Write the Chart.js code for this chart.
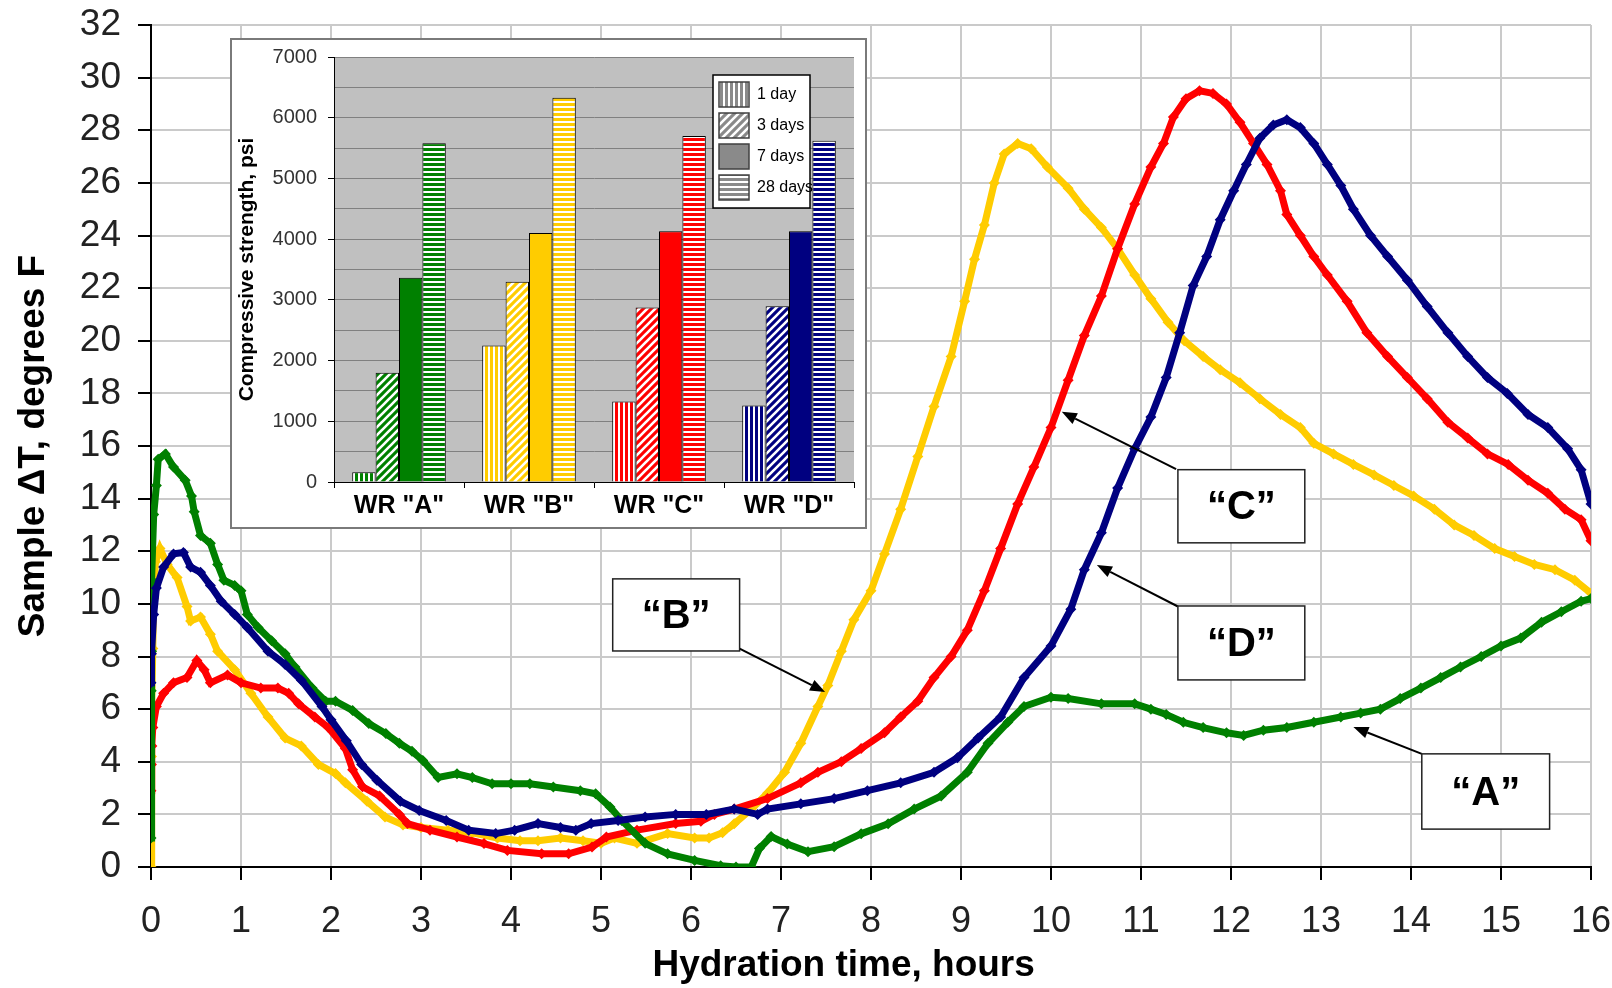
<!DOCTYPE html>
<html><head><meta charset="utf-8">
<script src="https://cdn.jsdelivr.net/npm/chart.js@4.4.0/dist/chart.umd.min.js"></script>
<style>
html,body{margin:0;padding:0;background:#fff;overflow:hidden}
#wrap{position:relative;width:1612px;height:988px}
#main{position:absolute;left:0;top:0}
#inset{position:absolute;left:230px;top:38px}
</style></head><body>
<div id="wrap"><canvas id="main" width="1612" height="988"></canvas><canvas id="inset" width="637" height="491"></canvas></div>
<script>
// ---------- Main chart data (hours, degrees F) ----------
const hoursA = [0,0.003,0.006,0.01,0.03,0.06,0.08,0.16,0.25,0.38,0.45,0.48,0.55,0.66,0.74,0.81,0.93,1.0,1.07,1.19,1.34,1.49,1.6,1.79,1.94,2.05,2.24,2.42,2.61,2.76,2.9,3.02,3.19,3.4,3.57,3.79,4.0,4.21,4.47,4.77,4.94,5.1,5.23,5.49,5.74,6.04,6.33,6.5,6.67,6.76,6.89,7.07,7.3,7.59,7.89,8.19,8.48,8.78,9.07,9.3,9.52,9.7,10.0,10.19,10.56,10.93,11.11,11.28,11.47,11.69,11.95,12.14,12.36,12.62,12.92,13.22,13.44,13.66,13.88,14.11,14.33,14.55,14.78,15.0,15.22,15.45,15.67,15.89,16.0];
const tempA = [1.1,6.7,8.2,10.9,13.4,14.5,15.5,15.7,15.2,14.7,14.1,13.5,12.6,12.3,11.5,10.9,10.7,10.5,9.6,9.1,8.6,8.1,7.6,6.8,6.3,6.3,5.95,5.45,5.07,4.7,4.4,4.05,3.4,3.54,3.4,3.16,3.16,3.16,3.04,2.9,2.78,2.28,1.77,0.9,0.5,0.25,0.05,0,0,0.7,1.16,0.87,0.58,0.77,1.26,1.64,2.2,2.7,3.6,4.7,5.5,6.1,6.45,6.4,6.2,6.2,6.0,5.8,5.5,5.3,5.1,5.0,5.2,5.3,5.5,5.7,5.85,6.0,6.4,6.8,7.2,7.6,8.0,8.4,8.7,9.3,9.7,10.1,10.2];
const hoursB = [0,0.005,0.01,0.02,0.03,0.05,0.1,0.18,0.29,0.4,0.44,0.55,0.66,0.74,0.93,1.11,1.3,1.49,1.67,1.86,2.05,2.16,2.4,2.6,2.8,3.0,3.3,3.57,3.85,4.1,4.3,4.55,4.8,5.0,5.15,5.4,5.74,6.04,6.2,6.35,6.48,6.67,6.85,7.04,7.22,7.41,7.52,7.67,7.81,8.0,8.15,8.33,8.52,8.7,8.89,9.04,9.15,9.26,9.37,9.48,9.63,9.78,9.96,10.19,10.37,10.56,10.74,10.93,11.11,11.3,11.48,11.69,11.88,12.1,12.32,12.55,12.77,12.92,13.14,13.36,13.59,13.81,14.03,14.26,14.48,14.7,14.93,15.15,15.37,15.6,15.82,16.0];
const tempB = [0,4.2,6.1,8.3,10.2,11.6,12.1,11.5,11.0,9.9,9.35,9.5,8.85,8.2,7.5,6.6,5.7,4.9,4.6,3.9,3.55,3.2,2.5,1.9,1.6,1.5,1.4,1.3,1.1,1.0,1.0,1.1,1.0,0.9,1.1,0.9,1.27,1.1,1.1,1.3,1.64,2.2,2.8,3.6,4.7,6.1,6.9,8.2,9.4,10.5,11.9,13.6,15.6,17.5,19.4,21.5,23.1,24.4,26.0,27.1,27.5,27.3,26.6,25.8,25.0,24.3,23.5,22.5,21.6,20.7,20.0,19.4,18.9,18.4,17.8,17.2,16.7,16.1,15.7,15.3,14.9,14.5,14.1,13.6,13.0,12.6,12.1,11.8,11.5,11.3,10.9,10.4];
const hoursC = [0,0.005,0.01,0.02,0.06,0.14,0.25,0.4,0.51,0.59,0.66,0.85,1.0,1.22,1.41,1.53,1.64,1.82,1.97,2.16,2.24,2.35,2.54,2.76,2.85,3.1,3.4,3.7,3.96,4.34,4.64,4.9,5.06,5.4,5.83,6.11,6.26,6.48,6.85,7.22,7.41,7.67,7.89,8.15,8.33,8.52,8.7,8.89,9.07,9.26,9.44,9.63,9.81,10.0,10.19,10.37,10.56,10.74,10.93,11.11,11.25,11.36,11.5,11.65,11.8,11.95,12.1,12.25,12.4,12.55,12.62,12.77,12.92,13.07,13.29,13.51,13.74,13.96,14.18,14.41,14.63,14.85,15.08,15.3,15.52,15.71,15.89,16.0];
const tempC = [2.9,3.9,4.6,5.3,6.1,6.6,7.0,7.2,7.85,7.5,7.0,7.3,7.0,6.8,6.8,6.6,6.2,5.7,5.3,4.5,3.7,3.05,2.7,2.0,1.65,1.4,1.14,0.89,0.63,0.5,0.5,0.76,1.14,1.4,1.65,1.74,2.0,2.2,2.6,3.2,3.6,4.0,4.5,5.1,5.7,6.3,7.2,8.0,9.0,10.5,12.1,13.8,15.2,16.7,18.5,20.2,21.7,23.5,25.2,26.6,27.5,28.5,29.2,29.5,29.4,29.0,28.3,27.5,26.7,25.7,24.8,24.0,23.2,22.5,21.5,20.3,19.4,18.6,17.8,16.9,16.3,15.7,15.3,14.7,14.2,13.6,13.2,12.4];
const hoursD = [0,0.005,0.03,0.06,0.14,0.25,0.36,0.44,0.55,0.66,0.78,0.93,1.07,1.3,1.49,1.67,1.9,2.0,2.17,2.34,2.51,2.77,2.98,3.28,3.53,3.83,4.04,4.3,4.55,4.72,4.89,5.19,5.49,5.83,6.17,6.48,6.74,6.85,7.22,7.59,7.96,8.33,8.7,8.96,9.19,9.44,9.7,10.0,10.22,10.37,10.56,10.74,10.93,11.11,11.28,11.43,11.58,11.73,11.88,12.03,12.17,12.32,12.47,12.62,12.77,12.92,13.07,13.22,13.36,13.55,13.74,13.96,14.18,14.41,14.63,14.85,15.07,15.3,15.52,15.74,15.89,16.0];
const tempD = [7.0,8.1,9.6,10.6,11.4,11.9,11.95,11.4,11.2,10.7,10.1,9.6,9.1,8.2,7.7,7.1,6.1,5.6,4.8,3.9,3.3,2.5,2.15,1.77,1.4,1.27,1.4,1.65,1.5,1.4,1.65,1.77,1.9,2.0,2.0,2.2,2.0,2.2,2.4,2.6,2.9,3.2,3.6,4.15,4.9,5.7,7.2,8.4,9.8,11.3,12.7,14.4,15.9,17.1,18.6,20.3,22.1,23.2,24.6,25.7,26.7,27.7,28.2,28.4,28.1,27.5,26.7,25.9,25.0,24.0,23.2,22.3,21.3,20.3,19.4,18.6,18.0,17.2,16.7,15.9,15.1,13.8];

const xTicksMax = 16, yTicksMax = 32;
const xTitle = 'Hydration time, hours';
const annotLabels = ['\u201CA\u201D','\u201CB\u201D','\u201CC\u201D','\u201CD\u201D'];

// ---------- Inset bar chart data (psi) ----------
const categories = ['WR "A"','WR "B"','WR "C"','WR "D"'];
const periodLabels = ['1 day','3 days','7 days','28 days'];
const day1  = [160, 2250, 1325, 1260];
const day3  = [1800, 3300, 2875, 2895];
const day7  = [3365, 4100, 4130, 4130];
const day28 = [5580, 6330, 5700, 5620];

const FONT = '"Liberation Sans", Arial, sans-serif';
const COL = {A:'#008000', B:'#FFCC00', C:'#FF0000', D:'#000080'};

function series(label, hs, vs, color){
  return {label, data: hs.map((h,i)=>({x:h, y:vs[i]})), borderColor: color, backgroundColor: color,
    borderWidth: 7, pointStyle:'rectRot', pointRadius: 5.5, pointBorderWidth: 0, pointBackgroundColor: color, tension: 0};
}

// annotation layout (data units: hours, degF)
const annotLayout = [
  {box:[14.12,4.3,15.54,1.44], from:[14.12,4.3], to:[13.36,5.32]},
  {box:[5.13,10.95,6.54,8.21], from:[6.54,8.3], to:[7.49,6.65]},
  {box:[11.41,15.1,12.82,12.32], from:[11.39,15.12], to:[10.12,17.3]},
  {box:[11.41,9.92,12.82,7.11], from:[11.41,9.9], to:[10.51,11.48]},
];

const annotPlugin = {
  id:'annot',
  afterDatasetsDraw(chart){
    const {ctx, scales:{x,y}} = chart;
    ctx.save();
    annotLayout.forEach((a,i)=>{
      const x1=x.getPixelForValue(a.box[0]), y1=y.getPixelForValue(a.box[1]);
      const x2=x.getPixelForValue(a.box[2]), y2=y.getPixelForValue(a.box[3]);
      const fx=x.getPixelForValue(a.from[0]), fy=y.getPixelForValue(a.from[1]);
      const tx=x.getPixelForValue(a.to[0]), ty=y.getPixelForValue(a.to[1]);
      const ang=Math.atan2(ty-fy, tx-fx), L=15, W=6;
      const bx=tx-L*Math.cos(ang), by=ty-L*Math.sin(ang);
      ctx.strokeStyle='#000'; ctx.lineWidth=2;
      ctx.beginPath(); ctx.moveTo(fx,fy); ctx.lineTo(bx,by); ctx.stroke();
      ctx.fillStyle='#000';
      ctx.beginPath(); ctx.moveTo(tx,ty);
      ctx.lineTo(bx+W*Math.sin(ang), by-W*Math.cos(ang));
      ctx.lineTo(bx-W*Math.sin(ang), by+W*Math.cos(ang));
      ctx.closePath(); ctx.fill();
      ctx.fillStyle='#fff'; ctx.fillRect(x1,y1,x2-x1,y2-y1);
      ctx.strokeStyle='#222'; ctx.lineWidth=1.5; ctx.strokeRect(x1,y1,x2-x1,y2-y1);
      ctx.fillStyle='#000'; ctx.font='bold 40px '+FONT; ctx.textAlign='center'; ctx.textBaseline='middle';
      ctx.fillText(annotLabels[i], (x1+x2)/2, (y1+y2)/2+2);
    });
    // x-axis title (slightly left of centre, as in the source figure)
    const xs = chart.scales.x;
    ctx.fillStyle='#000'; ctx.font='bold 37px '+FONT; ctx.textAlign='center'; ctx.textBaseline='middle';
    ctx.fillText(xTitle, xs.left + (xs.right-xs.left)*0.481, xs.bottom - 22);
    ctx.restore();
  }
};

new Chart(document.getElementById('main'), {
  type:'line',
  data:{datasets:[
    series('D', hoursD, tempD, COL.D),
    series('A', hoursA, tempA, COL.A),
    series('C', hoursC, tempC, COL.C),
    series('B', hoursB, tempB, COL.B)
  ]},
  options:{
    responsive:false, devicePixelRatio:1, animation:false,
    layout:{padding:{top:25,right:21,left:0,bottom:0}},
    plugins:{legend:{display:false}, tooltip:{enabled:false}},
    scales:{
      x:{type:'linear', min:0, max:xTicksMax,
        afterFit(s){s.height=121; s.paddingLeft=0; s.paddingRight=0;},
        ticks:{stepSize:1, autoSkip:false, maxRotation:0, font:{family:FONT,size:36}, color:'#222', padding:20},
        grid:{color:'#cacaca', lineWidth:2, tickLength:13, tickColor:'#000', tickWidth:2},
        border:{color:'#000', width:2}
      },
      y:{type:'linear', min:0, max:yTicksMax,
        afterFit(s){s.width=151; s.paddingTop=0; s.paddingBottom=0;},
        ticks:{stepSize:2, autoSkip:false, font:{family:FONT,size:37}, color:'#222', padding:17},
        grid:{color:'#cacaca', lineWidth:2, tickLength:13, tickColor:'#000', tickWidth:2},
        border:{color:'#000', width:2},
        title:{display:true, text:'Sample \u0394T, degrees F', color:'#000', font:{family:FONT,size:37,weight:'bold'}, padding:{top:12,bottom:0}}
      }
    }
  },
  plugins:[annotPlugin]
});

// ---------- Inset ----------
function makePattern(color, type){
  const c=document.createElement('canvas');
  const s = type==='diag' ? 8 : 5;
  c.width=s; c.height=s;
  const g=c.getContext('2d');
  g.fillStyle='#fff'; g.fillRect(0,0,s,s);
  g.fillStyle=color;
  if(type==='vert'){ g.fillRect(0,0,3,s); }
  else if(type==='horiz'){ g.fillRect(0,0,s,3); }
  else if(type==='diag'){
    g.fillRect(0,0,s,s);
    g.strokeStyle='#fff'; g.lineWidth=2.6; g.beginPath();
    g.moveTo(-1,s+1); g.lineTo(s+1,-1);
    g.moveTo(-1,1); g.lineTo(1,-1);
    g.moveTo(s-1,s+1); g.lineTo(s+1,s-1);
    g.stroke();
  } else { g.fillRect(0,0,s,s); }
  return document.createElement('canvas').getContext('2d').createPattern(c,'repeat');
}
const barColors=[COL.A, COL.B, COL.C, COL.D];
const patTypes=['vert','diag','solid','horiz'];
const periodValues=[day1, day3, day7, day28];

const insetBg = {
  id:'insetBg',
  beforeDraw(chart){
    const {ctx, chartArea:a, width, height} = chart;
    ctx.save();
    ctx.fillStyle='#fff'; ctx.fillRect(0,0,width,height);
    ctx.fillStyle='#c0c0c0'; ctx.fillRect(a.left,a.top,a.right-a.left,a.bottom-a.top);
    ctx.restore();
  },
  afterDraw(chart){
    const {ctx, width, height} = chart;
    ctx.save();
    ctx.strokeStyle='#7a7a7a'; ctx.lineWidth=2; ctx.strokeRect(1,1,width-2,height-2);
    const lx=483, ly=37, lw=97, lh=133;
    ctx.fillStyle='#fff'; ctx.fillRect(lx,ly,lw,lh);
    ctx.strokeStyle='#000'; ctx.lineWidth=1.5; ctx.strokeRect(lx,ly,lw,lh);
    periodLabels.forEach((t,i)=>{
      const sy = ly+7+i*31;
      ctx.fillStyle = makePattern('#8a8a8a', patTypes[i]);
      ctx.fillRect(lx+6, sy, 30, 25);
      ctx.strokeStyle='#404040'; ctx.lineWidth=1.5; ctx.strokeRect(lx+6, sy, 30, 25);
      ctx.fillStyle='#000'; ctx.font='16px '+FONT; ctx.textAlign='left'; ctx.textBaseline='middle';
      ctx.fillText(t, lx+44, sy+13);
    });
    ctx.restore();
  }
};

new Chart(document.getElementById('inset'), {
  type:'bar',
  data:{labels:categories, datasets: periodLabels.map((lab,i)=>({
    label:lab, data:periodValues[i],
    backgroundColor: barColors.map(c=>makePattern(c, patTypes[i])),
    borderColor:'#000', borderWidth:1, categoryPercentage:0.72, barPercentage:1
  }))},
  options:{
    responsive:false, devicePixelRatio:1, animation:false,
    layout:{padding:{top:19,right:13,left:0,bottom:0}},
    plugins:{legend:{display:false}, tooltip:{enabled:false}},
    scales:{
      x:{afterFit(s){s.height=47; s.paddingLeft=0; s.paddingRight=0;},
        ticks:{font:{family:FONT,size:25,weight:'bold'}, color:'#000', padding:3},
        grid:{display:true, drawOnChartArea:false, offset:true, tickLength:6, color:'#000'},
        border:{color:'#000', width:1}
      },
      y:{min:0, max:7000, afterFit(s){s.width=104; s.paddingTop=0; s.paddingBottom=0;},
        ticks:{stepSize:500, autoSkip:false, callback:v=> v%1000===0 ? v : '', font:{family:FONT,size:20}, color:'#333', padding:11},
        grid:{color:'#808080', lineWidth:1, tickLength:6, tickColor: c => (c.tick && c.tick.value%1000===0) ? '#000' : 'rgba(0,0,0,0)'},
        border:{color:'#000', width:1},
        title:{display:true, text:'Compressive strength, psi', color:'#000', font:{family:FONT,size:21,weight:'bold'}, padding:{top:5,bottom:0}}
      }
    }
  },
  plugins:[insetBg]
});
</script>
</body></html>
